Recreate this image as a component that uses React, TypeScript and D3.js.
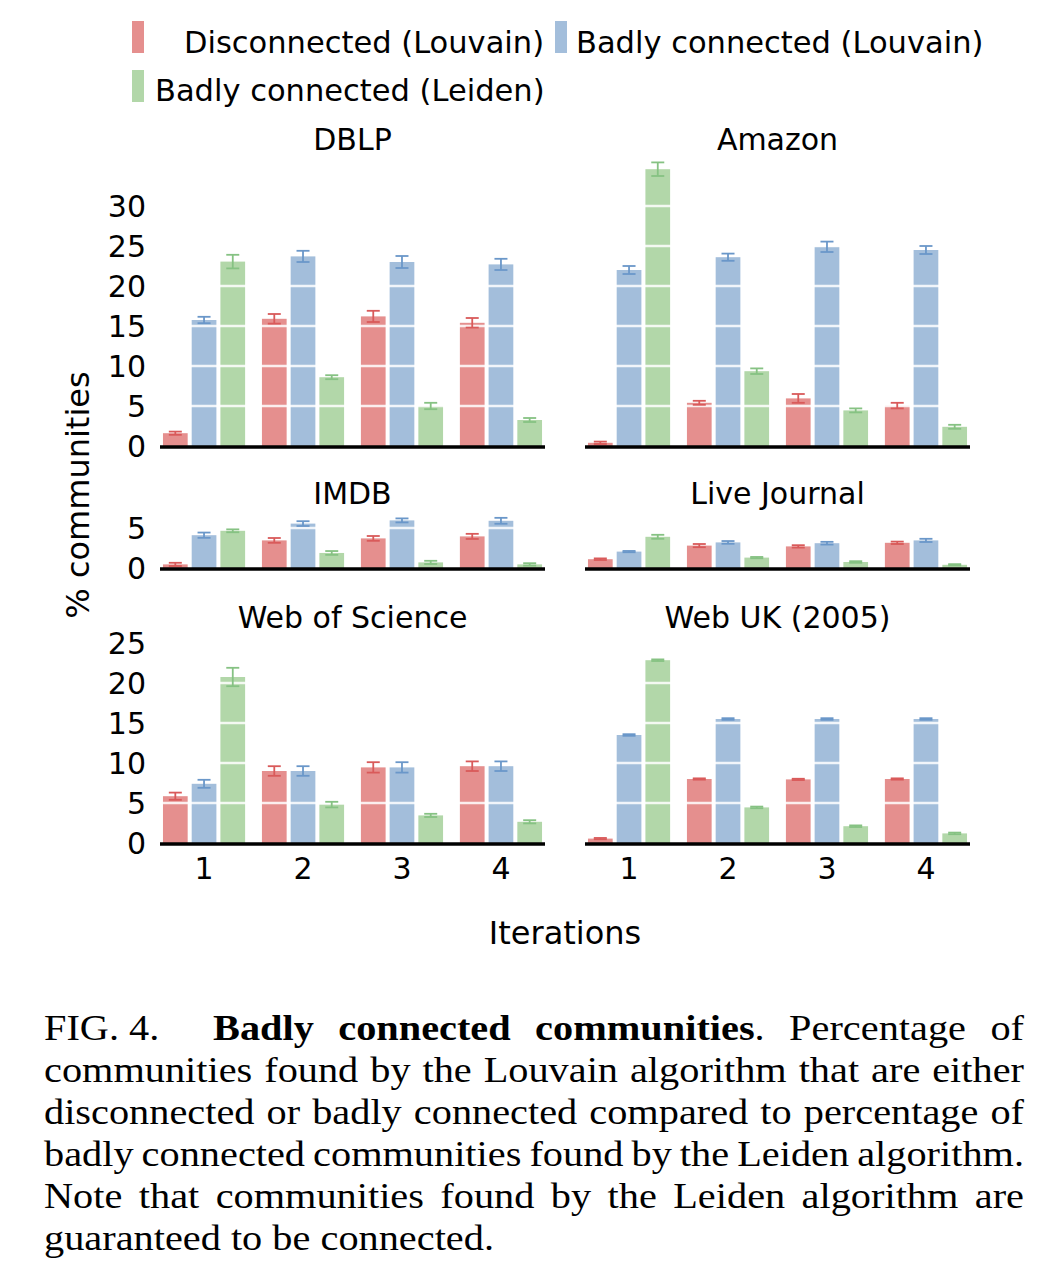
import React, { useEffect, useRef } from "react";
import * as d3 from "d3";

// ---------- data ----------
const iterations = ["1", "2", "3", "4"];
const seriesKeys = ["disc", "badLouvain", "badLeiden"];
const legendLabels = [
  "Disconnected (Louvain)",
  "Badly connected (Louvain)",
  "Badly connected (Leiden)",
];

// DBLP
const dblpDisc = [1.6, 15.9, 16.2, 15.4];
const dblpDiscErr = [0.2, 0.6, 0.7, 0.6];
const dblpBadLouvain = [15.75, 23.7, 23.0, 22.7];
const dblpBadLouvainErr = [0.4, 0.7, 0.75, 0.7];
const dblpBadLeiden = [23.05, 8.6, 5.0, 3.25];
const dblpBadLeidenErr = [0.85, 0.25, 0.4, 0.25];

// Amazon
const amazonDisc = [0.4, 5.4, 5.95, 5.05];
const amazonDiscErr = [0.15, 0.25, 0.55, 0.35];
const amazonBadLouvain = [22.0, 23.6, 24.9, 24.5];
const amazonBadLouvainErr = [0.5, 0.45, 0.65, 0.5];
const amazonBadLeiden = [34.6, 9.35, 4.45, 2.4];
const amazonBadLeidenErr = [0.85, 0.35, 0.25, 0.25];

// IMDB
const imdbDisc = [0.45, 3.45, 3.7, 3.95];
const imdbDiscErr = [0.2, 0.3, 0.3, 0.32];
const imdbBadLouvain = [4.1, 5.55, 5.95, 5.9];
const imdbBadLouvainErr = [0.33, 0.3, 0.25, 0.37];
const imdbBadLeiden = [4.65, 1.88, 0.7, 0.45];
const imdbBadLeidenErr = [0.18, 0.24, 0.2, 0.15];

// Live Journal
const ljDisc = [1.1, 2.8, 2.7, 3.15];
const ljDiscErr = [0.1, 0.2, 0.15, 0.15];
const ljBadLouvain = [2.05, 3.2, 3.1, 3.45];
const ljBadLouvainErr = [0.08, 0.17, 0.17, 0.2];
const ljBadLeiden = [3.9, 1.3, 0.75, 0.4];
const ljBadLeidenErr = [0.25, 0.08, 0.1, 0.08];

// Web of Science
const wosDisc = [5.85, 9.0, 9.45, 9.6];
const wosDiscErr = [0.45, 0.6, 0.65, 0.6];
const wosBadLouvain = [7.4, 9.0, 9.45, 9.6];
const wosBadLouvainErr = [0.5, 0.6, 0.65, 0.6];
const wosBadLeiden = [20.75, 4.8, 3.45, 2.65];
const wosBadLeidenErr = [1.15, 0.35, 0.2, 0.2];

// Web UK (2005)
const ukDisc = [0.55, 8.0, 7.95, 8.0];
const ukDiscErr = [0.08, 0.08, 0.08, 0.08];
const ukBadLouvain = [13.5, 15.5, 15.5, 15.5];
const ukBadLouvainErr = [0.1, 0.1, 0.1, 0.1];
const ukBadLeiden = [22.85, 4.45, 2.1, 1.2];
const ukBadLeidenErr = [0.1, 0.1, 0.1, 0.1];

const panelTitles = ["DBLP", "Amazon", "IMDB", "Live Journal", "Web of Science", "Web UK (2005)"];
const topTicks = [0, 5, 10, 15, 20, 25, 30];
const midTicks = [0, 5];
const bottomTicks = [0, 5, 10, 15, 20, 25];

const panels = [
  { title: panelTitles[0], values: [dblpDisc, dblpBadLouvain, dblpBadLeiden], errors: [dblpDiscErr, dblpBadLouvainErr, dblpBadLeidenErr] },
  { title: panelTitles[1], values: [amazonDisc, amazonBadLouvain, amazonBadLeiden], errors: [amazonDiscErr, amazonBadLouvainErr, amazonBadLeidenErr] },
  { title: panelTitles[2], values: [imdbDisc, imdbBadLouvain, imdbBadLeiden], errors: [imdbDiscErr, imdbBadLouvainErr, imdbBadLeidenErr] },
  { title: panelTitles[3], values: [ljDisc, ljBadLouvain, ljBadLeiden], errors: [ljDiscErr, ljBadLouvainErr, ljBadLeidenErr] },
  { title: panelTitles[4], values: [wosDisc, wosBadLouvain, wosBadLeiden], errors: [wosDiscErr, wosBadLouvainErr, wosBadLeidenErr] },
  { title: panelTitles[5], values: [ukDisc, ukBadLouvain, ukBadLeiden], errors: [ukDiscErr, ukBadLouvainErr, ukBadLeidenErr] },
];

const captionLines = [
  "communities found by the Louvain algorithm that are either",
  "disconnected or badly connected compared to percentage of",
  "badly connected communities found by the Leiden algorithm.",
  "Note that communities found by the Leiden algorithm are",
];
const captionFirst = [
  { t: "Badly connected communities", b: true },
  { t: ". Percentage of", b: false },
];
const captionLast = "guaranteed to be connected.";

// ---------- styles ----------
const barColors = ["#e58f8e", "#a3bedb", "#b2d7a9"];
const errColors = ["#d95a5a", "#6a97c9", "#86c283"];
const SANS = "'DejaVu Sans', sans-serif";
const SERIF = "'Liberation Serif', serif";

export default function App() {
  const ref = useRef<SVGSVGElement | null>(null);

  useEffect(() => {
    const svg = d3.select(ref.current);
    svg.selectAll("*").remove();

    const colRanges = [
      [160, 545],
      [585, 970],
    ];
    const pxPerUnit = 8;
    const rows = [
      { base: 446, max: 36, ticks: topTicks, titleY: 150 },
      { base: 568, max: 6.5, ticks: midTicks, titleY: 504 },
      { base: 843, max: 25, ticks: bottomTicks, titleY: 628 },
    ];

    panels.forEach((p, idx) => {
      const row = rows[Math.floor(idx / 2)];
      const col = idx % 2;
      const xr = colRanges[col];
      const g = svg.append("g");

      const x0 = d3.scaleBand<string>().domain(iterations).range([xr[0], xr[1]]).paddingInner(0.17).paddingOuter(0.03);
      const x1 = d3.scaleBand<string>().domain(seriesKeys).range([0, x0.bandwidth()]).paddingInner(0.14);
      const y = d3.scaleLinear().domain([0, row.max]).range([row.base, row.base - row.max * pxPerUnit]);

      // bars
      seriesKeys.forEach((k, si) => {
        g.selectAll(null)
          .data(iterations)
          .enter()
          .append("rect")
          .attr("x", (it) => (x0(it) as number) + (x1(k) as number))
          .attr("y", (_, i) => y(p.values[si][i]))
          .attr("width", x1.bandwidth())
          .attr("height", (_, i) => y(0) - y(p.values[si][i]))
          .attr("fill", barColors[si]);
      });

      // white grid lines (visible over bars)
      row.ticks
        .filter((t) => t > 0)
        .forEach((t) => {
          g.append("line")
            .attr("x1", xr[0])
            .attr("x2", xr[1])
            .attr("y1", y(t))
            .attr("y2", y(t))
            .attr("stroke", "#ffffff")
            .attr("stroke-opacity", 0.85)
            .attr("stroke-width", 2.5);
        });

      // error bars
      seriesKeys.forEach((k, si) => {
        iterations.forEach((it, i) => {
          const cx = (x0(it) as number) + (x1(k) as number) + x1.bandwidth() / 2;
          const v = p.values[si][i];
          const e = p.errors[si][i];
          const lo = y(Math.max(0, v - e));
          const hi = y(v + e);
          const cap = 6.5;
          const eg = g.append("g").attr("stroke", errColors[si]).attr("stroke-width", 1.8);
          eg.append("line").attr("x1", cx).attr("x2", cx).attr("y1", lo).attr("y2", hi);
          eg.append("line").attr("x1", cx - cap).attr("x2", cx + cap).attr("y1", lo).attr("y2", lo);
          eg.append("line").attr("x1", cx - cap).attr("x2", cx + cap).attr("y1", hi).attr("y2", hi);
        });
      });

      // baseline axis
      g.append("line")
        .attr("x1", xr[0])
        .attr("x2", xr[1])
        .attr("y1", y(0) + 1)
        .attr("y2", y(0) + 1)
        .attr("stroke", "#000")
        .attr("stroke-width", 3.5);

      // y tick labels
      if (col === 0) {
        row.ticks.forEach((t) => {
          g.append("text")
            .attr("x", 146)
            .attr("y", y(t) + 11)
            .attr("text-anchor", "end")
            .attr("font-family", SANS)
            .attr("font-size", 30)
            .text(String(t));
        });
      }

      // x tick labels (bottom row)
      if (idx >= 4) {
        iterations.forEach((it) => {
          g.append("text")
            .attr("x", (x0(it) as number) + x0.bandwidth() / 2)
            .attr("y", 879)
            .attr("text-anchor", "middle")
            .attr("font-family", SANS)
            .attr("font-size", 30)
            .text(it);
        });
      }

      // title
      g.append("text")
        .attr("x", (xr[0] + xr[1]) / 2)
        .attr("y", row.titleY)
        .attr("text-anchor", "middle")
        .attr("font-family", SANS)
        .attr("font-size", 30)
        .text(p.title);
    });

    // axis labels
    svg.append("text")
      .attr("x", 565)
      .attr("y", 944)
      .attr("text-anchor", "middle")
      .attr("font-family", SANS)
      .attr("font-size", 32)
      .text("Iterations");
    svg.append("text")
      .attr("transform", "translate(89,495) rotate(-90)")
      .attr("text-anchor", "middle")
      .attr("font-family", SANS)
      .attr("font-size", 32)
      .text("% communities");

    // legend
    const legendPos = [
      { rx: 132, ry: 21, tx: 184, ty: 53 },
      { rx: 555, ry: 21, tx: 576, ty: 53 },
      { rx: 132, ry: 70, tx: 155, ty: 101 },
    ];
    legendLabels.forEach((lab, i) => {
      const lp = legendPos[i];
      svg.append("rect").attr("x", lp.rx).attr("y", lp.ry).attr("width", 12).attr("height", 32).attr("fill", barColors[i]);
      svg.append("text")
        .attr("x", lp.tx)
        .attr("y", lp.ty)
        .attr("font-family", SANS)
        .attr("font-size", 30.5)
        .text(lab);
    });

    // caption (Computer-Modern-like width: stretch Liberation Serif horizontally)
    const capSize = 36;
    const sx = 1.12;
    const cap = svg.append("g").attr("transform", `translate(44,0) scale(${sx},1)`);
    const justify = (sel: any, width: number, nSpaces: number) => {
      const node = sel.node() as SVGTextElement;
      const len = node.getComputedTextLength();
      if (nSpaces > 0) sel.attr("word-spacing", (width - len) / nSpaces);
    };

    cap.append("text")
      .attr("x", 0)
      .attr("y", 1040)
      .attr("font-family", SERIF)
      .attr("font-size", capSize)
      .text("FIG. 4.");
    const first = cap.append("text")
      .attr("x", (213 - 44) / sx)
      .attr("y", 1040)
      .attr("font-family", SERIF)
      .attr("font-size", capSize);
    captionFirst.forEach((s) => {
      first.append("tspan").attr("font-weight", s.b ? "bold" : "normal").text(s.t);
    });
    justify(first, (1024 - 213) / sx, (captionFirst.map((s) => s.t).join("").match(/ /g) || []).length);

    captionLines.forEach((line, i) => {
      const t = cap.append("text")
        .attr("x", 0)
        .attr("y", 1082 + i * 42)
        .attr("font-family", SERIF)
        .attr("font-size", capSize)
        .text(line);
      justify(t, 980 / sx, (line.match(/ /g) || []).length);
    });
    cap.append("text")
      .attr("x", 0)
      .attr("y", 1082 + 4 * 42)
      .attr("font-family", SERIF)
      .attr("font-size", capSize)
      .text(captionLast);
  }, []);

  return (
    <svg
      ref={ref}
      width={1050}
      height={1266}
      style={{ position: "absolute", left: 0, top: 0, background: "#fff" }}
    />
  );
}
